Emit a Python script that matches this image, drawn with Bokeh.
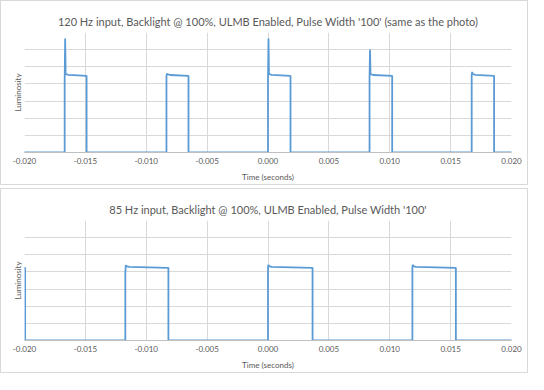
from bokeh.plotting import figure
from bokeh.layouts import column
from bokeh.models import FixedTicker, NumeralTickFormatter, Range1d
from bokeh.embed import file_html
from bokeh.resources import INLINE

# ---- data ----
titles = ["120 Hz input, Backlight @ 100%, ULMB Enabled, Pulse Width '100' (same as the photo)",
          "85 Hz input, Backlight @ 100%, ULMB Enabled, Pulse Width '100'"]

# 120 Hz pulses
rise_120 = [-0.0167, -0.00834, 0.0000, 0.00834, 0.01673]
fall_120 = [-0.0149, -0.00653, 0.00185, 0.0102, 0.01857]
peak_120 = [6.65, 4.60, 6.65, 6.00, 4.70]
dip_120 = [4.20, 4.45, 4.20, 4.30, 4.50]
plat_start_120 = [4.53, 4.52, 4.53, 4.52, 4.53]
plat_end_120 = [4.47, 4.47, 4.47, 4.47, 4.47]

# 85 Hz pulses
rise_85 = [-0.0235, -0.01172, 0.0000, 0.01186]
fall_85 = [-0.01995, -0.00818, 0.00366, 0.01543]
peak_85 = [4.40, 4.40, 4.42, 4.42]
dip_85 = [4.30, 3.90, 4.30, 4.30]
plat_start_85 = [4.29, 4.29, 4.29, 4.29]
plat_end_85 = [4.24, 4.24, 4.24, 4.24]

x_ticks = [-0.020, -0.015, -0.010, -0.005, 0.000, 0.005, 0.010, 0.015, 0.020]
y_grid = [0, 1, 2, 3, 4, 5, 6, 7]

LINE = "#5B9BD5"
GRID = "#D9D9D9"
TEXT = "#595959"
FONT = "Lato"


def trace(rise, fall, peak, dip, ps, pe, x0=-0.0245, x1=0.0205):
    xs, ys = [x0], [0.0]
    for r, f, pk, d, a, b in zip(rise, fall, peak, dip, ps, pe):
        xs += [r, r, r + 0.00004, r + 0.00008, r + 0.0003, f, f]
        ys += [0.0, d, pk, a + 0.05, a, b, 0.0]
    xs.append(x1)
    ys.append(0.0)
    return xs, ys


def make(title, xs, ys):
    p = figure(width=528, height=185, output_backend="svg", toolbar_location=None,
               x_range=Range1d(-0.020, 0.020), y_range=Range1d(0, 7),
               min_border_left=23, min_border_right=18, min_border_top=31,
               min_border_bottom=34)
    p.title.text = title
    p.title.align = "center"
    p.title.text_font = FONT
    p.title.text_font_size = "11px"
    p.title.text_font_style = "normal"
    p.title.text_color = TEXT
    p.title.standoff = 9
    p.outline_line_color = None
    p.background_fill_color = "white"
    p.border_fill_color = "white"
    p.styles = {"border": "1px solid #D9D9D9", "box-sizing": "border-box"}

    p.xaxis.ticker = FixedTicker(ticks=x_ticks)
    p.xaxis.formatter = NumeralTickFormatter(format="0.000")
    p.xaxis.axis_label = "Time (seconds)"
    p.xaxis.axis_label_text_font = FONT
    p.xaxis.axis_label_text_font_size = "8px"
    p.xaxis.axis_label_text_font_style = "normal"
    p.xaxis.axis_label_text_color = TEXT
    p.xaxis.axis_label_standoff = 5
    p.xaxis.major_label_text_font = FONT
    p.xaxis.major_label_text_font_size = "8px"
    p.xaxis.major_label_text_color = TEXT
    p.xaxis.major_label_standoff = 5
    p.xaxis.major_tick_out = 0
    p.xaxis.major_tick_in = 0
    p.xaxis.minor_tick_out = 0
    p.xaxis.minor_tick_in = 0
    p.xaxis.axis_line_color = "#BFBFBF"

    p.yaxis.ticker = FixedTicker(ticks=[])
    p.yaxis.axis_label = "Luminosity"
    p.yaxis.axis_label_text_font = FONT
    p.yaxis.axis_label_text_font_size = "8px"
    p.yaxis.axis_label_text_font_style = "normal"
    p.yaxis.axis_label_text_color = TEXT
    p.yaxis.axis_label_standoff = 2
    p.yaxis.major_label_standoff = 0
    p.yaxis.major_tick_out = 0
    p.yaxis.major_tick_in = 0
    p.yaxis.minor_tick_out = 0
    p.yaxis.minor_tick_in = 0
    p.yaxis.axis_line_color = None

    p.xgrid.grid_line_color = GRID
    p.ygrid.ticker = FixedTicker(ticks=y_grid)
    p.ygrid.grid_line_color = GRID
    p.line(xs, ys, line_color=LINE, line_width=1.8)
    return p


x1s, y1s = trace(rise_120, fall_120, peak_120, dip_120, plat_start_120, plat_end_120)
x2s, y2s = trace(rise_85, fall_85, peak_85, dip_85, plat_start_85, plat_end_85)
p1 = make(titles[0], x1s, y1s)
p2 = make(titles[1], x2s, y2s)

layout = column(p1, p2, spacing=3)
open("out.html", "w").write(file_html(layout, INLINE))
